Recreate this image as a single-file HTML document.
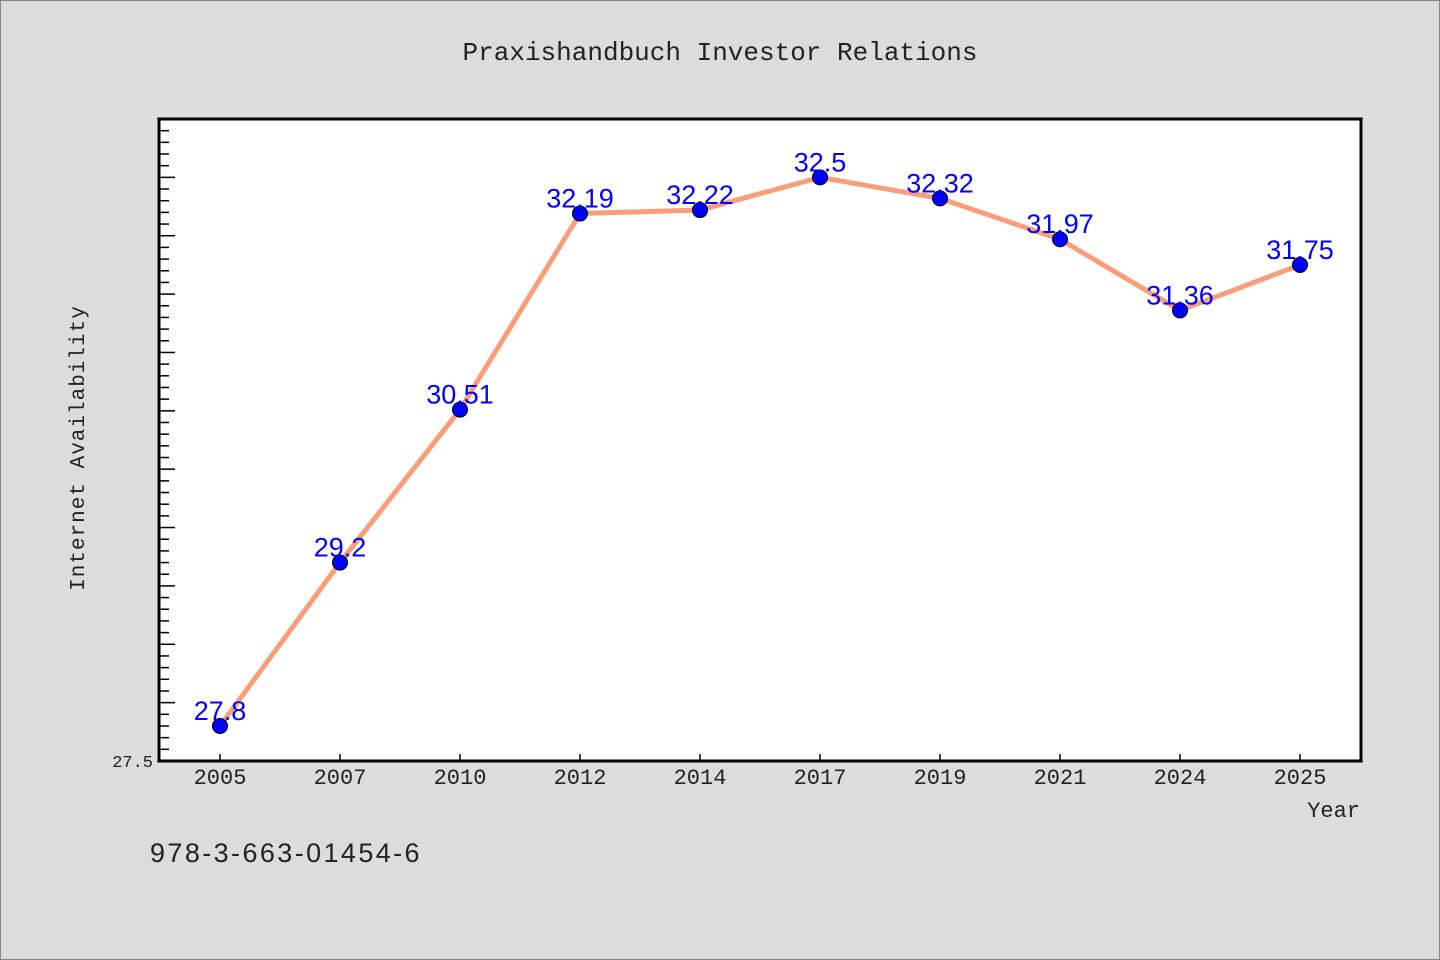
<!DOCTYPE html>
<html><head><meta charset="utf-8"><style>
body{margin:0;background:#dcdcdc;}
svg{display:block;font-family:"Liberation Mono",monospace;}
</style></head><body>
<svg width="1440" height="960">
<rect x="0.5" y="0.5" width="1439" height="959" fill="#dcdcdc" stroke="#888"/>
<text x="720" y="60" text-anchor="middle" font-size="26" fill="#222">Praxishandbuch Investor Relations</text>
<rect x="159" y="119" width="1202" height="642" fill="#fff"/>
<g id="ticks"></g>
<g id="marks"></g>
<rect x="159" y="119" width="1202" height="642" fill="none" stroke="#000" stroke-width="3"/>
<text x="84" y="448" text-anchor="middle" font-size="21" letter-spacing="1" fill="#222" transform="rotate(-90 84 448)">Internet Availability</text>
<text x="1360" y="817" text-anchor="end" font-size="22" fill="#222">Year</text>
<text x="150" y="862" font-size="27" letter-spacing="2.4" fill="#222" font-family="Liberation Sans, sans-serif">978-3-663-01454-6</text>
</svg>
<script>
const categories=["2005","2007","2010","2012","2014","2017","2019","2021","2024","2025"];
const values=[27.8,29.2,30.51,32.19,32.22,32.5,32.32,31.97,31.36,31.75];
const labels=["27.8","29.2","30.51","32.19","32.22","32.5","32.32","31.97","31.36","31.75"];
const yMin=27.5,yMax=33.0;
const NS="http://www.w3.org/2000/svg";
const pL=159,pR=1361,pT=119,pB=761;
function X(i){return 220+i*120;}
function Y(v){return pB-(v-yMin)/(yMax-yMin)*(pB-pT);}
function mk(t,a,p){const e=document.createElementNS(NS,t);for(const k in a)e.setAttribute(k,a[k]);p.appendChild(e);return e;}
const tk=document.getElementById('ticks'),mg=document.getElementById('marks');
for(let k=0;k<=55;k++){const v=yMin+k*0.1;const y=Y(v);const major=k%5===0;
const l=mk('line',{x1:pL,x2:pL+(major?16:10),y1:y,y2:y,stroke:'#000','stroke-width':1.5},tk);

}
const yl=mk('text',{x:153,y:pB+6,'text-anchor':'end','font-size':17,fill:'#222'},tk);yl.textContent="27.5";


categories.forEach((c,i)=>{
const t=mk('line',{x1:X(i),x2:X(i),y1:pB,y2:pB-7,stroke:'#000','stroke-width':1.5},tk);


const tx=mk('text',{x:X(i),y:pB+23,'text-anchor':'middle','font-size':22,fill:'#222'},tk);tx.textContent=c;

});
const line=mk('polyline',{points:values.map((v,i)=>X(i)+','+Y(v)).join(' '),fill:'none',stroke:'#fa9e7a','stroke-width':5,'stroke-linejoin':'round'},mg);


values.forEach((v,i)=>{
const c=mk('circle',{cx:X(i),cy:Y(v),r:7.5,fill:'#0000ff',stroke:'#000','stroke-width':1},mg);


const t=mk('text',{x:X(i),y:Y(v)-6,'text-anchor':'middle','font-size':27,fill:'#0000ff','font-family':'"Liberation Sans",sans-serif'},mg);t.textContent=labels[i];

});
</script>
</body></html>
